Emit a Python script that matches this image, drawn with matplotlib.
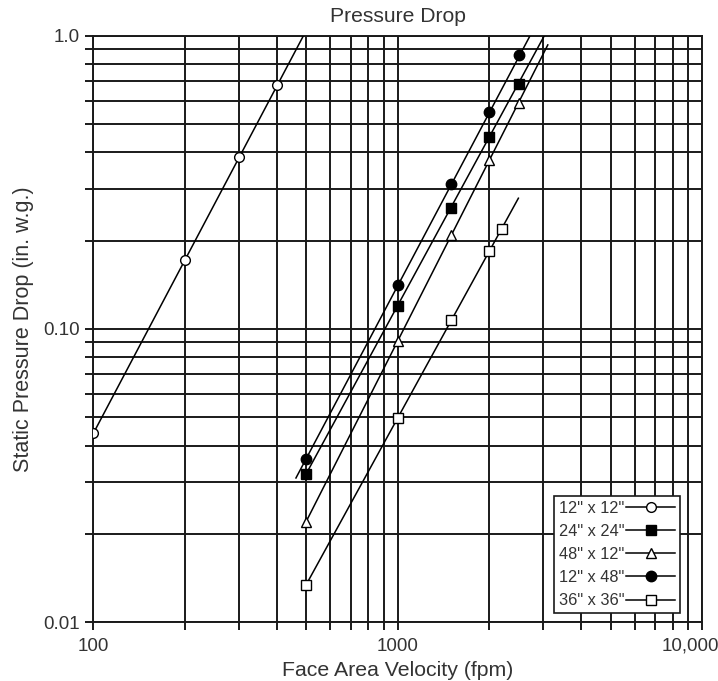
import matplotlib
matplotlib.use("Agg")
from matplotlib import pyplot as plt
from matplotlib.lines import Line2D
from matplotlib.transforms import ScaledTranslation
from matplotlib.ticker import FixedLocator, FixedFormatter, NullFormatter, LogLocator

plt.rcParams['font.family'] = ['Liberation Sans', 'DejaVu Sans']
plt.rcParams['text.color'] = '#333333'
plt.rcParams['axes.labelcolor'] = '#333333'

# data
sizes = ['12" x 12"', '24" x 24"', '48" x 12"', '12" x 48"', '36" x 36"']

vel_12x12 = [100, 200, 300, 400]
dp_12x12 = [0.044, 0.172, 0.385, 0.68]

vel_std = [500, 1000, 1500, 2000, 2500]
dp_24x24 = [0.032, 0.120, 0.259, 0.451, 0.682]
dp_48x12 = [0.022, 0.091, 0.209, 0.377, 0.591]
dp_12x48 = [0.036, 0.141, 0.312, 0.547, 0.857]

vel_36x36 = [500, 1000, 1500, 2000, 2200]
dp_36x36 = [0.0134, 0.0497, 0.107, 0.1845, 0.219]

# trend line end points (velocity, pressure drop)
trend_vel = [[100, 490], [500, 3030], [500, 3110], [463, 2720], [500, 2490]]
trend_dp = [[0.044, 1.0], [0.032, 1.0], [0.022, 0.93], [0.031, 1.0], [0.0134, 0.279]]

x_ticks = [100, 1000, 10000]
x_labels = ["100", "1000", "10,000"]
y_ticks = [0.01, 0.1, 1.0]
y_labels = ["0.01", "0.10", "1.0"]

pts_vel = [vel_12x12, vel_std, vel_std, vel_std, vel_36x36]
pts_dp = [dp_12x12, dp_24x24, dp_48x12, dp_12x48, dp_36x36]
markers = ["o", "s", "^", "o", "s"]
faces = ["white", "black", "white", "black", "white"]
msizes = [7, 7.5, 7, 7.5, 7.5]

fig = plt.figure(figsize=(7.18, 6.81), dpi=100)
ax = fig.add_axes([0.130, 0.0866, 0.848, 0.861])
ax.set_xscale("log")
ax.set_yscale("log")
ax.set_xlim(100, 10000)
ax.set_ylim(0.01, 1.0)

handles = []
for i in range(len(sizes)):
    ax.plot(trend_vel[i], trend_dp[i], color="black", lw=1.1, zorder=3)
    ax.plot(pts_vel[i], pts_dp[i], linestyle="none", marker=markers[i],
            markersize=msizes[i], markerfacecolor=faces[i],
            markeredgecolor="black", markeredgewidth=1.0, zorder=4)
    handles.append(Line2D([], [], color="black", lw=1.1, marker=markers[i],
                          markersize=msizes[i], markerfacecolor=faces[i],
                          markeredgecolor="black", markeredgewidth=1.0))

ax.xaxis.set_major_locator(FixedLocator(x_ticks))
ax.xaxis.set_major_formatter(FixedFormatter(x_labels))
ax.yaxis.set_major_locator(FixedLocator(y_ticks))
ax.yaxis.set_major_formatter(FixedFormatter(y_labels))
ax.xaxis.set_minor_locator(LogLocator(base=10, subs=range(2, 10)))
ax.yaxis.set_minor_locator(LogLocator(base=10, subs=range(2, 10)))
ax.xaxis.set_minor_formatter(NullFormatter())
ax.yaxis.set_minor_formatter(NullFormatter())

ax.grid(True, which="both", color="#1a1a1a", lw=1.4)
ax.set_axisbelow(True)
for s in ax.spines.values():
    s.set_color("#1a1a1a")
    s.set_linewidth(1.4)
ax.tick_params(which="both", direction="out", length=6, width=1.4,
               color="#1a1a1a", labelsize=13.5, labelcolor="#333333",
               top=False, right=False)
ax.tick_params(axis="x", pad=5.5)

# keep the last x label inside the picture
fig.canvas.draw()
last = ax.get_xticklabels()[-1]
last.set_transform(last.get_transform() + ScaledTranslation(-12 / 100, 0, fig.dpi_scale_trans))

ax.set_xlabel("Face Area Velocity (fpm)", fontsize=15.3, labelpad=4)
ax.set_ylabel("Static Pressure Drop (in. w.g.)", fontsize=15.5, labelpad=7)
ax.set_title("Pressure Drop", fontsize=15.2, pad=10)

leg = ax.legend(handles, sizes, loc="lower right", bbox_to_anchor=(0.964, 0.015),
                borderaxespad=0, markerfirst=False, fancybox=False,
                edgecolor="#1a1a1a", framealpha=1, fontsize=11.8,
                handlelength=3.0, handletextpad=0.1, labelspacing=0.5,
                borderpad=0.3)
leg.get_frame().set_linewidth(1.2)

plt.savefig("out.png", dpi=100)
